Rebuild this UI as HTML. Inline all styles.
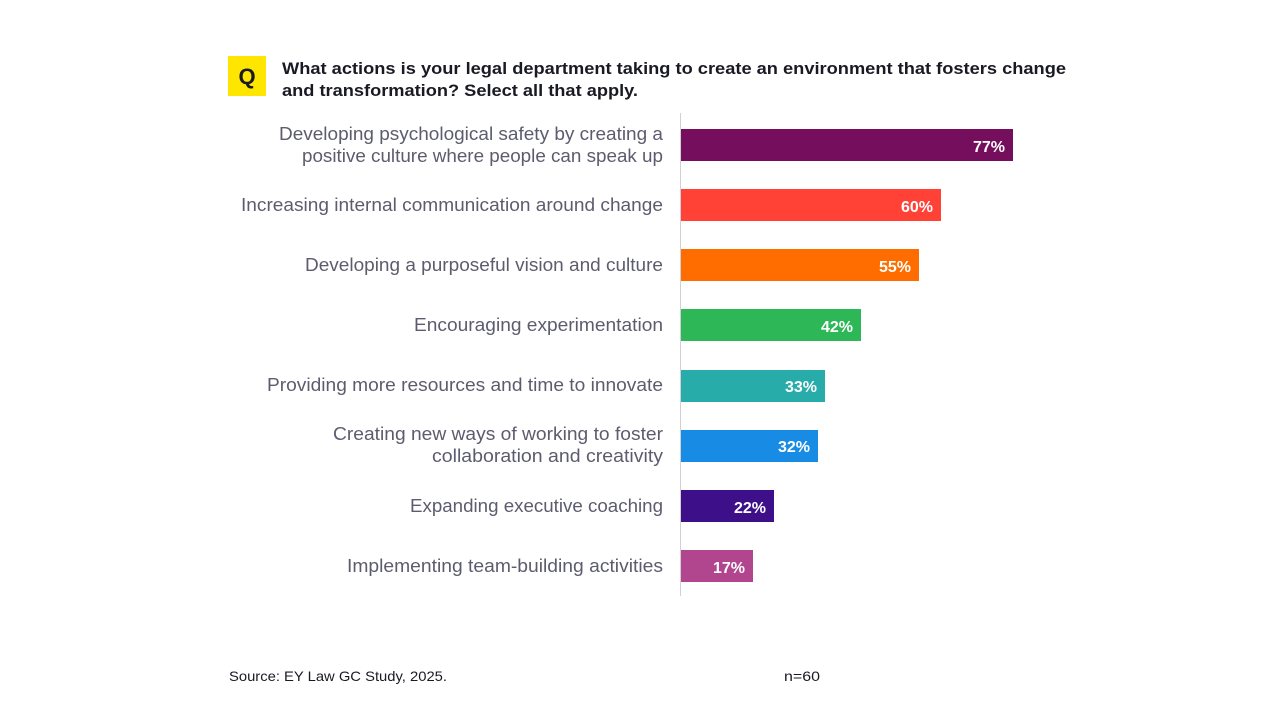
<!DOCTYPE html>
<html>
<head>
<meta charset="utf-8">
<style>
  html,body{margin:0;padding:0;background:#fff;}
  svg{display:block;}
  .lbl{font-family:"Liberation Sans",sans-serif;font-size:18px;fill:#5c5c6e;}
  .val{font-family:"Liberation Sans",sans-serif;font-size:16px;font-weight:bold;fill:#fff;}
  .ttl{font-family:"Liberation Sans",sans-serif;font-size:17px;font-weight:bold;fill:#1a1a24;}
  .ftr{font-family:"Liberation Sans",sans-serif;font-size:14px;fill:#1a1a24;}
</style>
</head>
<body>
<svg width="1280" height="720" viewBox="0 0 1280 720" xmlns="http://www.w3.org/2000/svg">
  <rect width="1280" height="720" fill="#fff"/>
  <!-- Q box -->
  <rect x="228" y="56" width="38" height="40" fill="#FFE600"/>
  <text x="247" y="84" text-anchor="middle" font-family="Liberation Sans, sans-serif" font-size="22" font-weight="bold" fill="#1a1a24">Q</text>
  <!-- Title -->
  <text class="ttl" x="282" y="74" textLength="784" lengthAdjust="spacingAndGlyphs">What actions is your legal department taking to create an environment that fosters change</text>
  <text class="ttl" x="282" y="96" textLength="356" lengthAdjust="spacingAndGlyphs">and transformation? Select all that apply.</text>

  <!-- axis -->
  <line x1="680.5" y1="113" x2="680.5" y2="596" stroke="#d0d0d6" stroke-width="1"/>

  <!-- bars -->
  <rect x="681" y="129" width="332" height="32" fill="#750E5C"/>
  <rect x="681" y="189" width="260" height="32" fill="#FF4136"/>
  <rect x="681" y="249" width="238" height="32" fill="#FF6D00"/>
  <rect x="681" y="309" width="180" height="32" fill="#2DB757"/>
  <rect x="681" y="370" width="144" height="32" fill="#27ACAA"/>
  <rect x="681" y="430" width="137" height="32" fill="#188CE5"/>
  <rect x="681" y="490" width="93" height="32" fill="#3D108A"/>
  <rect x="681" y="550" width="72" height="32" fill="#B1468E"/>

  <!-- values -->
  <text class="val" x="1005" y="152" text-anchor="end">77%</text>
  <text class="val" x="933" y="212" text-anchor="end">60%</text>
  <text class="val" x="911" y="272" text-anchor="end">55%</text>
  <text class="val" x="853" y="332" text-anchor="end">42%</text>
  <text class="val" x="817" y="392" text-anchor="end">33%</text>
  <text class="val" x="810" y="452" text-anchor="end">32%</text>
  <text class="val" x="766" y="513" text-anchor="end">22%</text>
  <text class="val" x="745" y="573" text-anchor="end">17%</text>

  <!-- labels -->
  <text class="lbl" x="663" y="140" text-anchor="end" textLength="384" lengthAdjust="spacingAndGlyphs">Developing psychological safety by creating a</text>
  <text class="lbl" x="663" y="162" text-anchor="end" textLength="361" lengthAdjust="spacingAndGlyphs">positive culture where people can speak up</text>
  <text class="lbl" x="663" y="211" text-anchor="end" textLength="422" lengthAdjust="spacingAndGlyphs">Increasing internal communication around change</text>
  <text class="lbl" x="663" y="271" text-anchor="end" textLength="358" lengthAdjust="spacingAndGlyphs">Developing a purposeful vision and culture</text>
  <text class="lbl" x="663" y="331" text-anchor="end" textLength="249" lengthAdjust="spacingAndGlyphs">Encouraging experimentation</text>
  <text class="lbl" x="663" y="391" text-anchor="end" textLength="396" lengthAdjust="spacingAndGlyphs">Providing more resources and time to innovate</text>
  <text class="lbl" x="663" y="440" text-anchor="end" textLength="330" lengthAdjust="spacingAndGlyphs">Creating new ways of working to foster</text>
  <text class="lbl" x="663" y="462" text-anchor="end" textLength="231" lengthAdjust="spacingAndGlyphs">collaboration and creativity</text>
  <text class="lbl" x="663" y="512" text-anchor="end" textLength="253" lengthAdjust="spacingAndGlyphs">Expanding executive coaching</text>
  <text class="lbl" x="663" y="572" text-anchor="end" textLength="316" lengthAdjust="spacingAndGlyphs">Implementing team-building activities</text>

  <!-- footer -->
  <text class="ftr" x="229" y="681" textLength="218" lengthAdjust="spacingAndGlyphs">Source: EY Law GC Study, 2025.</text>
  <text class="ftr" x="784" y="681" textLength="36" lengthAdjust="spacingAndGlyphs">n=60</text>
</svg>
</body>
</html>
